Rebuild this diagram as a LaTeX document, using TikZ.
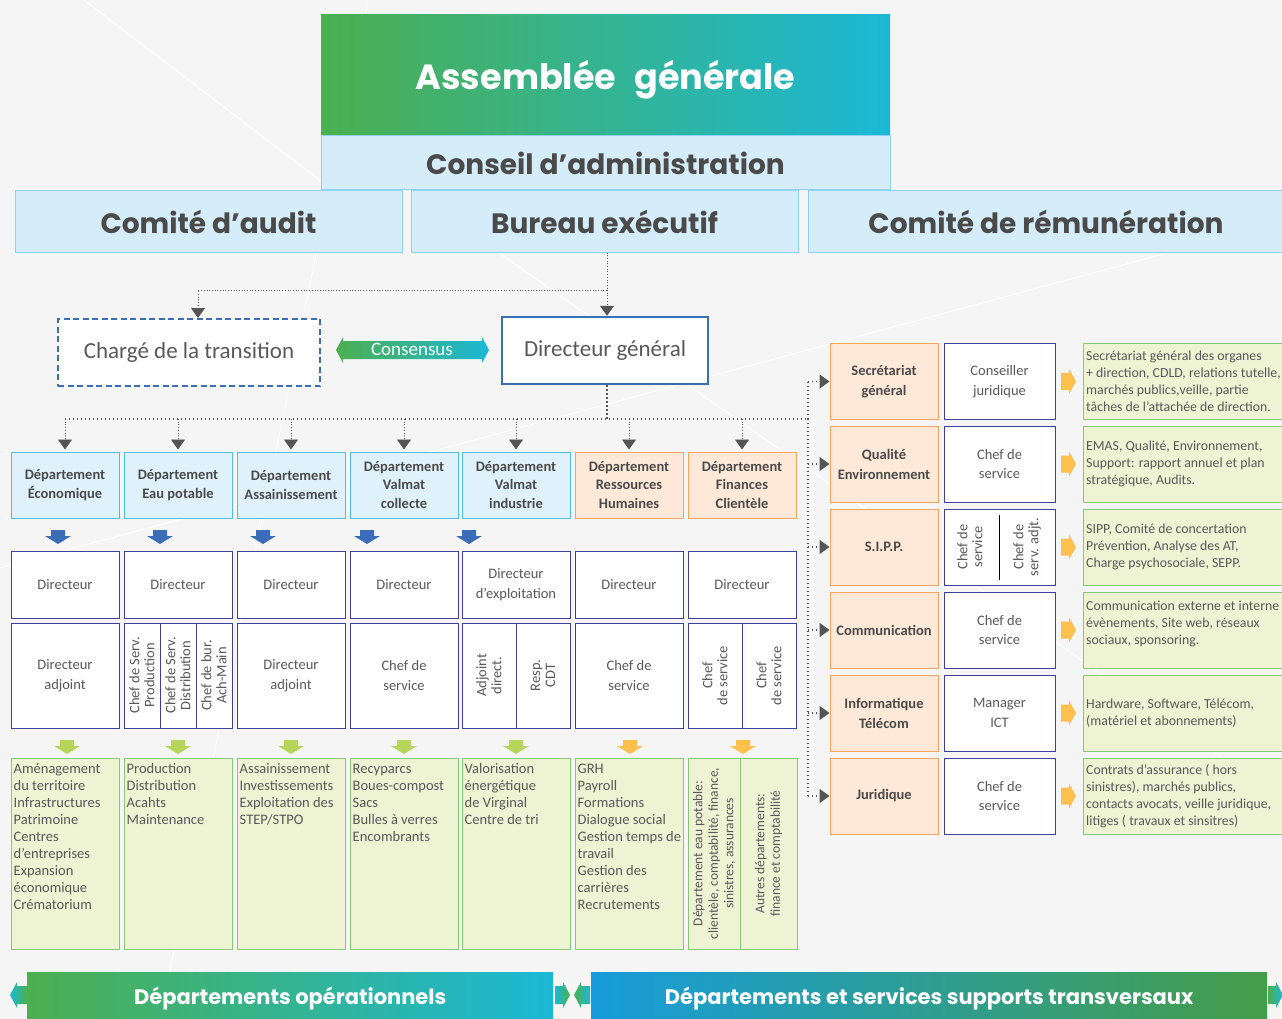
\documentclass[tikz,border=0pt]{standalone}
\usepackage{fontspec}
\setmainfont{Carlito}
\newfontfamily\headfont{Poppins}
\usetikzlibrary{arrows.meta,positioning}

\definecolor{bggray}{HTML}{F5F5F5}
\definecolor{agreen}{HTML}{4CAF50}
\definecolor{acyan}{HTML}{1BB8D6}
\definecolor{boardfill}{HTML}{D5ECF9}
\definecolor{boardline}{HTML}{8DD2F3}
\definecolor{deptfill}{HTML}{DFF1FB}
\definecolor{deptline}{HTML}{4FBDEA}
\definecolor{suppfill}{HTML}{FEE9D8}
\definecolor{suppline}{HTML}{F7A45D}
\definecolor{staffline}{HTML}{40409C}
\definecolor{taskfill}{HTML}{EEF3D4}
\definecolor{taskline}{HTML}{86C975}
\definecolor{dgblue}{HTML}{3C6EB6}
\definecolor{linkgray}{HTML}{555555}
\definecolor{headgray}{HTML}{4A4A4A}
\definecolor{bodygray}{HTML}{595959}
\definecolor{arrowblue}{HTML}{3B6CB7}
\definecolor{arrowgreen}{HTML}{B6D55B}
\definecolor{arroworange}{HTML}{FFC14E}

\tikzset{board/.style={rectangle,draw=boardline,fill=boardfill,line width=1pt,inner sep=0pt,text=headgray,font=\headfont\bfseries\fontsize{28}{32}\selectfont},
         dept/.style={rectangle,draw=deptline,fill=deptfill,line width=1pt,inner sep=0pt,minimum width=108pt,minimum height=66pt,align=center,text=headgray,font=\bfseries\fontsize{14.5}{18.5}\selectfont},
         support/.style={dept,draw=suppline,fill=suppfill,minimum height=76pt,font=\bfseries\fontsize{14.5}{20}\selectfont},
         staff/.style={rectangle,draw=staffline,fill=white,line width=1pt,inner sep=0pt,minimum width=108pt,minimum height=67pt,align=center,text=bodygray,font=\fontsize{14.5}{19.5}\selectfont},
         turned/.style={rotate=90,font=\fontsize{14.5}{15}\selectfont},
         task/.style={rectangle,draw=taskline,fill=taskfill,line width=1pt,inner sep=0pt},
         task text/.style={anchor=north west,align=left,inner sep=0pt,text=bodygray,font=\fontsize{14.5}{17}\selectfont},
         side text/.style={task text,anchor=west,font=\fontsize{13.8}{17}\selectfont},
         task note/.style={task,rotate=90,minimum width=191pt,align=center,text=bodygray,font=\fontsize{13.5}{15.5}\selectfont},
         link/.style={draw=linkgray,line width=1.4pt,dash pattern=on 1.4pt off 2.6pt},
         thin link/.style={draw=linkgray,line width=0.9pt,dash pattern=on 0.9pt off 1.8pt},
         down arrow/.pic={\fill[pic actions] (-7,0) -- (7,0) -- (7,6) -- (13,6) -- (0,14) -- (-13,6) -- (-7,6) -- cycle;},
         right arrow/.pic={\fill[pic actions] (0,-8.5) -- (8,-8.5) -- (8,-12.5) -- (15,0) -- (8,12.5) -- (8,8.5) -- (0,8.5) -- cycle;}
}

\begin{document}
\begin{tikzpicture}[x=1pt,y=-1pt,>={Triangle[width=14pt,length=10pt]}]
\clip (0,0) rectangle (1282,1019);
\fill[bggray] (0,0) rectangle (1282,1019);
\draw[white,line width=0.8pt] (84,0) -- (322,182) (368,0) -- (160,1019) (0,568) -- (1282,222) (380,170) -- (1282,800);

% boards
\node[board,minimum width=569pt,minimum height=121pt,draw=none,left color=agreen,right color=acyan,text=white,font=\headfont\bfseries\fontsize{35}{40}\selectfont] (ag) at (605.5,75.5) {\raisebox{-14.5pt}[0pt][0pt]{Assemblée\hspace{0.3em} générale}};
\node[board,minimum width=569pt,minimum height=54pt] (ca) at (605.5,163) {Conseil d’administration};
\node[board,minimum width=387pt,minimum height=61pt] (audit) at (208.5,221.5) {Comité d’audit};
\node[board,minimum width=387pt,minimum height=61pt] (bureau) at (604.5,221.5) {Bureau exécutif};
\node[board,minimum width=476pt,minimum height=61pt] (remun) at (1046,221.5) {Comité de rémunération};

% direction
\node[draw=dgblue,line width=2pt,dash pattern=on 6pt off 3.5pt,fill=white,minimum width=262pt,minimum height=67pt,text=bodygray,font=\fontsize{23}{26}\selectfont] (charge) at (189,352.5) {Chargé de la transition};
\node[draw=dgblue,line width=2.5pt,fill=white,minimum width=206pt,minimum height=67pt,text=bodygray,font=\fontsize{23}{26}\selectfont] (dg) at (605,350.5) {Directeur général};
\shade[left color=agreen,right color=acyan] (336,350) -- (343,337) -- (343,341) -- (482,341) -- (482,337) -- (489,350) -- (482,363) -- (482,359) -- (343,359) -- (343,363) -- cycle;
\node[text=white,font=\fontsize{19}{22}\selectfont] (cons) at (412,349) {Consensus};

\coordinate (split) at (607,290);
\draw[thin link] (bureau.south -| split) -- (split);
\draw[thin link,->] (split) -- (dg.north -| split);
\draw[thin link,->] (split) -| ([xshift=9pt]charge.north);

% departments
\node[dept] (eco) at (65,485) {Département\\Économique};
\node[dept] (eau) at (178,485) {Département\\Eau potable};
\node[dept] (ass) at (291,485) {Département\\Assainissement};
\node[dept] (col) at (404,485) {Département\\Valmat\\collecte};
\node[dept] (ind) at (516,485) {Département\\Valmat\\industrie};
\node[dept,draw=suppline,fill=suppfill] (rh) at (629,485) {Département\\Ressources\\Humaines};
\node[dept,draw=suppline,fill=suppfill] (fin) at (742,485) {Département\\Finances\\Clientèle};

\coordinate (hub) at (607,419);
\coordinate (rail) at (808,419);
\draw[link] (dg.south -| hub) -- (hub);
\draw[link] (eco.north |- hub) -- (rail);
\foreach \d in {eco,eau,ass,col,ind,rh,fin}
  \draw[thin link,->,shorten >=2pt] (\d.north |- hub) -- (\d.north);

\foreach \x in {58,160,263,367,469}
  \pic[fill=arrowblue] at (\x,530) {down arrow};

% directors
\foreach \i/\x in {1/65,2/178,3/291,4/404,6/629,7/742}
  \node[staff] (dir\i) at (\x,584.5) {Directeur};
\node[staff] (dir5) at (516,584.5) {Directeur\\d’exploitation};

\node[staff,minimum height=105pt] (sub1) at (65,675.5) {Directeur\\adjoint};
\node[staff,turned,minimum width=105pt,minimum height=36pt] (sub2a) at (142,675.5) {Chef de Serv.\\Production};
\node[staff,turned,minimum width=105pt,minimum height=36pt] (sub2b) at (178,675.5) {Chef de Serv.\\Distribution};
\node[staff,turned,minimum width=105pt,minimum height=36pt] (sub2c) at (214,675.5) {Chef de bur.\\Ach-Main};
\node[staff,minimum height=105pt] (sub3) at (291,675.5) {Directeur\\adjoint};
\node[staff,minimum height=105pt] (sub4) at (404,675.5) {Chef de\\service};
\node[staff,turned,minimum width=105pt,minimum height=54pt] (sub5a) at (489,675.5) {Adjoint\\direct.};
\node[staff,turned,minimum width=105pt,minimum height=54pt] (sub5b) at (543,675.5) {Resp.\\CDT};
\node[staff,minimum height=105pt] (sub6) at (629,675.5) {Chef de\\service};
\node[staff,turned,minimum width=105pt,minimum height=54pt] (sub7a) at (715,675.5) {Chef\\de service};
\node[staff,turned,minimum width=105pt,minimum height=54pt] (sub7b) at (769,675.5) {Chef\\de service};

\foreach \x in {67,178,291,404,516}
  \pic[fill=arrowgreen] at (\x,740) {down arrow};
\foreach \x in {630,743}
  \pic[fill=arroworange] at (\x,740) {down arrow};

% tasks
\foreach \n/\x in {1/65,2/178,3/291,4/404,5/516,6/629}
  \node[task,minimum width=108pt,minimum height=191pt] (task\n) at (\x,853.5) {};
\node[task text] (list1) at ([shift={(3,6)}]task1.north west) {Aménagement\\du territoire\\Infrastructures\\Patrimoine\\Centres\\d’entreprises\\Expansion\\économique\\Crématorium};
\node[task text] (list2) at ([shift={(3,6)}]task2.north west) {Production\\Distribution\\Acahts\\Maintenance};
\node[task text] (list3) at ([shift={(3,6)}]task3.north west) {Assainissement\\Investissements\\Exploitation des\\STEP/STPO};
\node[task text] (list4) at ([shift={(3,6)}]task4.north west) {Recyparcs\\Boues-compost\\Sacs\\Bulles à verres\\Encombrants};
\node[task text] (list5) at ([shift={(3,6)}]task5.north west) {Valorisation\\énergétique\\de Virginal\\Centre de tri};
\node[task text] (list6) at ([shift={(3,6)}]task6.north west) {GRH\\Payroll\\Formations\\Dialogue social\\Gestion temps de\\travail\\Gestion des\\carrières\\Recrutements};
\node[task note,minimum height=52pt] (task7a) at (714,853.5) {Département eau potable:\\clientèle, comptabilité, finance,\\sinistres, assurances};
\node[task note,minimum height=57pt] (task7b) at (768.5,853.5) {Autres départements:\\finance et comptabilité};

% support services
\node[support] (sg) at (884,381.5) {Secrétariat\\général};
\node[support] (qe) at (884,464) {Qualité\\Environnement};
\node[support] (sipp) at (884,547) {S.I.P.P.};
\node[support] (com) at (884,630) {Communication};
\node[support] (ict) at (884,713) {Informatique\\Télécom};
\node[support] (jur) at (884,796) {Juridique};

\draw[link] (rail) -- (rail |- sg.west);
\draw[link] (rail) -- (rail |- jur.west);
\foreach \r in {sg,qe,sipp,com,ict,jur}
  \draw[link,->] (rail |- \r.west) -- (\r.west);

\node[staff,minimum width=111pt,minimum height=76pt] (sgs) at (999.5,381.5) {Conseiller\\juridique};
\node[staff,minimum width=111pt,minimum height=76pt] (qes) at (999.5,464) {Chef de\\service};
\node[staff,minimum width=111pt,minimum height=76pt] (sipps) at (999.5,547) {};
\node[turned,text=bodygray,align=center] (sippa) at (970,547) {Chef de\\service};
\node[turned,text=bodygray,align=center] (sippb) at (1027,547) {Chef de\\serv. adjt.};
\draw[black,line width=1pt] ([yshift=-6pt]sipps.north) -- ([yshift=6pt]sipps.south);
\node[staff,minimum width=111pt,minimum height=76pt] (coms) at (999.5,630) {Chef de\\service};
\node[staff,minimum width=111pt,minimum height=76pt] (icts) at (999.5,713) {Manager\\ICT};
\node[staff,minimum width=111pt,minimum height=76pt] (jurs) at (999.5,796) {Chef de\\service};

\foreach \r in {sg,qe,sipp,com,ict,jur}{
  \node[task,minimum width=215pt,minimum height=76pt,anchor=west] (\r-task) at (1083,0 |- \r.west) {};
  \pic[fill=arroworange] at ([xshift=-22pt]\r-task.west) {right arrow};
}
\node[side text] (sgx) at ([xshift=3pt]sg-task.west) {Secrétariat général des organes\\+ direction, CDLD, relations tutelle,\\marchés publics,veille, partie\\tâches de l’attachée de direction.};
\node[side text] (qex) at ([xshift=3pt]qe-task.west) {EMAS, Qualité, Environnement,\\Support: rapport annuel et plan\\stratégique, Audits.};
\node[side text] (sippx) at ([xshift=3pt]sipp-task.west) {SIPP, Comité de concertation\\Prévention, Analyse des AT,\\Charge psychosociale, SEPP.};
\node[side text] (comx) at ([shift={(3,-6)}]com-task.west) {Communication externe et interne\\évènements, Site web, réseaux\\sociaux, sponsoring.};
\node[side text] (ictx) at ([xshift=3pt]ict-task.west) {Hardware, Software, Télécom,\\(matériel et abonnements)};
\node[side text] (jurx) at ([xshift=3pt]jur-task.west) {Contrats d’assurance ( hors\\sinistres), marchés publics,\\contacts avocats, veille juridique,\\litiges ( travaux et sinsitres)};

% banners
\node[left color=agreen,right color=acyan,minimum width=526pt,minimum height=52pt,inner sep=0pt,anchor=north west,text=white,font=\headfont\bfseries\fontsize{21}{24}\selectfont] (ops) at (27,972) {Départements opérationnels};
\node[left color=acyan!85!blue,right color=agreen!90!black,minimum width=676pt,minimum height=52pt,inner sep=0pt,anchor=north west,text=white,font=\headfont\bfseries\fontsize{21}{24}\selectfont] (trans) at (591,972) {Départements et services supports transversaux};
\shade[left color=acyan,right color=agreen] (10,995) -- (17,982) -- (17,986) -- (27,986) -- (27,1004) -- (17,1004) -- (17,1008) -- cycle;
\shade[left color=acyan,right color=agreen] (555,986) -- (563,986) -- (563,982) -- (570,995) -- (563,1008) -- (563,1004) -- (555,1004) -- cycle;
\shade[left color=agreen,right color=acyan] (574,995) -- (581,982) -- (581,986) -- (590,986) -- (590,1004) -- (581,1004) -- (581,1008) -- cycle;
\shade[left color=agreen,right color=acyan] (1268,986) -- (1276,986) -- (1276,982) -- (1283,995) -- (1276,1008) -- (1276,1004) -- (1268,1004) -- cycle;
\end{tikzpicture}
\end{document}
